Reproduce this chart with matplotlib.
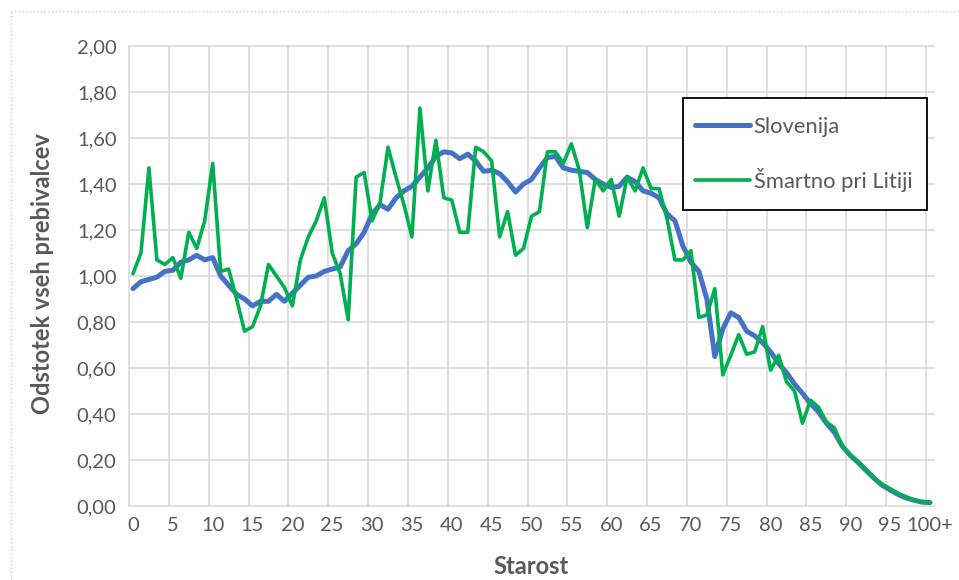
import matplotlib
matplotlib.use('Agg')
import matplotlib.pyplot as plt
from matplotlib.lines import Line2D
from matplotlib.patches import Rectangle
import numpy as np

plt.rcParams['font.family'] = ['Lato', 'DejaVu Sans']

# Podatki (odstotek vseh prebivalcev po starosti)
starost = list(range(0, 101))
slovenija = [0.945, 0.975, 0.985, 0.995, 1.02, 1.025, 1.06, 1.07, 1.09, 1.07,
             1.08, 1.00, 0.96, 0.92, 0.90, 0.87, 0.89, 0.89, 0.92, 0.89,
             0.925, 0.96, 0.995, 1.00, 1.02, 1.03, 1.04, 1.11, 1.14, 1.19,
             1.27, 1.31, 1.29, 1.34, 1.37, 1.39, 1.43, 1.47, 1.52, 1.54,
             1.535, 1.51, 1.53, 1.50, 1.455, 1.46, 1.445, 1.41, 1.365, 1.40,
             1.42, 1.47, 1.515, 1.52, 1.47, 1.46, 1.455, 1.45, 1.42, 1.40,
             1.385, 1.39, 1.43, 1.41, 1.37, 1.36, 1.34, 1.27, 1.24, 1.13,
             1.06, 1.02, 0.90, 0.65, 0.77, 0.84, 0.82, 0.76, 0.74, 0.71,
             0.67, 0.62, 0.58, 0.53, 0.49, 0.445, 0.41, 0.36, 0.32, 0.26,
             0.22, 0.19, 0.155, 0.12, 0.09, 0.07, 0.05, 0.035, 0.025, 0.017,
             0.015]
smartno = [1.01, 1.10, 1.47, 1.07, 1.05, 1.08, 0.99, 1.19, 1.12, 1.24,
           1.49, 1.02, 1.03, 0.90, 0.76, 0.78, 0.87, 1.05, 1.00, 0.95,
           0.87, 1.07, 1.17, 1.24, 1.34, 1.10, 1.01, 0.81, 1.43, 1.45,
           1.24, 1.32, 1.56, 1.43, 1.31, 1.17, 1.73, 1.37, 1.59, 1.34,
           1.33, 1.19, 1.19, 1.56, 1.54, 1.50, 1.17, 1.28, 1.09, 1.12,
           1.26, 1.28, 1.54, 1.54, 1.49, 1.575, 1.46, 1.21, 1.42, 1.37,
           1.42, 1.26, 1.43, 1.37, 1.47, 1.38, 1.38, 1.25, 1.07, 1.07,
           1.11, 0.82, 0.83, 0.945, 0.57, 0.655, 0.745, 0.66, 0.67, 0.78,
           0.59, 0.655, 0.54, 0.50, 0.36, 0.46, 0.43, 0.365, 0.34, 0.26,
           0.22, 0.185, 0.15, 0.12, 0.095, 0.075, 0.055, 0.04, 0.025, 0.017,
           0.015]
x_ticks = list(range(0, 101, 5))
x_labels = [str(v) for v in range(0, 100, 5)] + ['100+']
y_ticks = [round(0.2 * i, 1) for i in range(11)]

siva = '#595959'
mreza = '#d9d9d9'

fig = plt.figure(figsize=(9.59, 5.80), dpi=100)
ax = fig.add_axes([129 / 959, 1 - 506 / 580, (934 - 129) / 959, (506 - 46) / 580])

# Mreza
for yv in y_ticks:
    ax.axhline(yv, color=mreza, lw=1.2, zorder=0, clip_on=False)
for xv in np.arange(-0.5, 100, 5):
    ax.axvline(xv, color=mreza, lw=1.2, zorder=0, clip_on=False)

ax.plot(starost, slovenija, color='#4472C4', lw=3.6, solid_capstyle='round',
        solid_joinstyle='round', label='Slovenija', zorder=3)
ax.plot(starost, smartno, color='#00B050', lw=2.6, solid_capstyle='round',
        solid_joinstyle='round', label='Šmartno pri Litiji', zorder=4)

ax.set_xlim(-0.5, 100.5)
ax.set_ylim(0, 2.0)
ax.set_xticks(x_ticks)
ax.set_xticklabels(x_labels)
ax.set_yticks(y_ticks)
ax.set_yticklabels([f'{v:.2f}'.replace('.', ',') for v in y_ticks])
ax.tick_params(axis='both', length=0, labelsize=14.5, labelcolor=siva)
ax.tick_params(axis='y', pad=9)
ax.tick_params(axis='x', pad=8)
for s in ax.spines.values():
    s.set_visible(False)

# Okvir legende
ax.add_patch(Rectangle((0.688, 0.643), 0.303, 0.244, transform=ax.transAxes,
                       fill=True, facecolor='white', edgecolor='black', lw=1.3,
                       zorder=5, clip_on=False))
leg = ax.legend(loc='center left', bbox_to_anchor=(0.703, 0.765), frameon=False,
                fontsize=15.8, handlelength=2.52, handletextpad=0.15,
                labelspacing=1.42, borderpad=0, borderaxespad=0)
leg.set_zorder(6)
for t in leg.get_texts():
    t.set_color(siva)

fig.text(43 / 959, 1 - 274 / 580, 'Odstotek vseh prebivalcev', rotation=90,
         ha='center', va='center', fontsize=17, fontweight='bold', color=siva)
fig.text(531.5 / 959, 1 - 567 / 580, 'Starost', ha='center', va='center',
         fontsize=17, fontweight='bold', color=siva)

# Tockast okvir grafa
fig.add_artist(Line2D([11 / 959, 1], [1 - 11 / 580, 1 - 11 / 580],
                      transform=fig.transFigure, color='#d0d0d0', lw=1, ls=':'))
fig.add_artist(Line2D([11 / 959, 11 / 959], [0, 1 - 11 / 580],
                      transform=fig.transFigure, color='#d0d0d0', lw=1, ls=':'))

fig.savefig('out.png', dpi=100)
